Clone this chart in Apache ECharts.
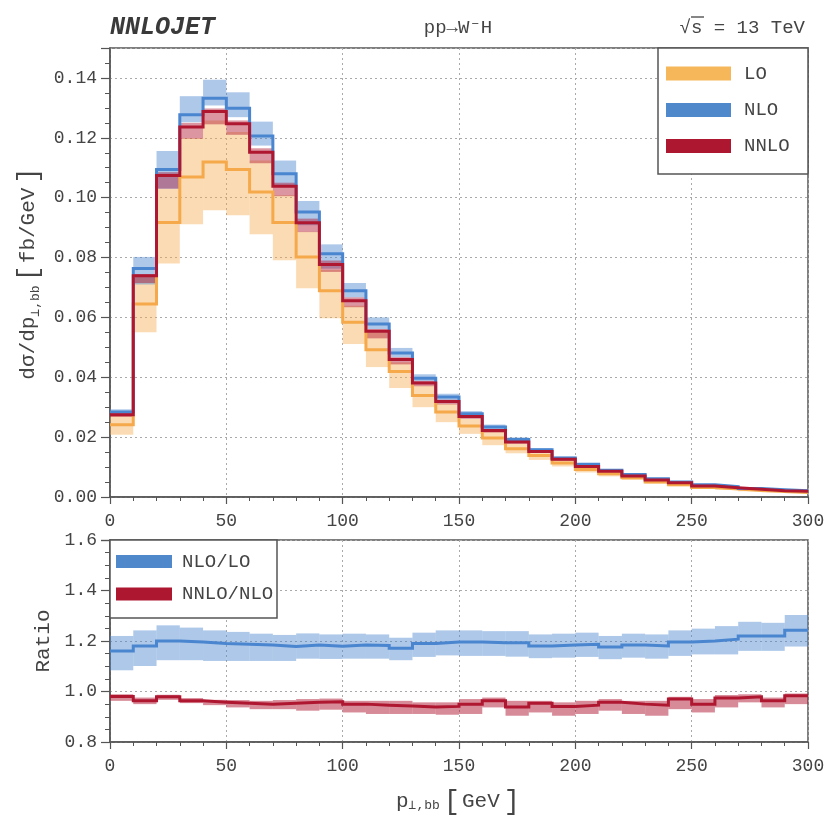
<!DOCTYPE html>
<html><head><meta charset="utf-8">
<script src="https://cdn.jsdelivr.net/npm/echarts@6/dist/echarts.min.js"></script>
<style>html,body{margin:0;padding:0;background:#fff}#c{width:839px;height:832px}</style>
</head><body><div id="c"></div><script>
// bin edges (GeV)
const edges = [0,10,20,30,40,50,60,70,80,90,100,110,120,130,140,150,160,170,180,190,200,210,220,230,240,250,260,270,280,290,300];

// top panel: dσ/dp⊥,bb [fb/GeV]
const loVal  = [0.0241,0.0645,0.0917,0.1069,0.1119,0.1094,0.1019,0.0917,0.0802,0.0689,0.0584,0.0492,0.0419,0.0339,0.0284,0.0237,0.0197,0.0161,0.0139,0.0114,0.0092,0.0078,0.0064,0.0050,0.0041,0.0032,0.0027,0.0022,0.0018,0.0015];
const loLow  = [0.0208,0.0550,0.0780,0.0911,0.0958,0.0941,0.0878,0.0791,0.0697,0.0597,0.0511,0.0434,0.0364,0.0300,0.0250,0.0211,0.0173,0.0146,0.0124,0.0102,0.0082,0.0069,0.0057,0.0045,0.0036,0.0028,0.0024,0.0019,0.0016,0.0013];
const loHigh = [0.0272,0.0735,0.1030,0.1199,0.1258,0.1219,0.1124,0.1008,0.0886,0.0758,0.0639,0.0550,0.0450,0.0372,0.0311,0.0261,0.0217,0.0178,0.0153,0.0126,0.0101,0.0086,0.0071,0.0055,0.0045,0.0035,0.0030,0.0024,0.0020,0.0017];

const nloVal  = [0.0284,0.0763,0.1094,0.1277,0.1332,0.1299,0.1206,0.1080,0.0952,0.0813,0.0689,0.0578,0.0481,0.0397,0.0334,0.0278,0.0234,0.0192,0.0158,0.0130,0.0109,0.0089,0.0075,0.0061,0.0050,0.0041,0.0035,0.0028,0.0024,0.0021];
const nloLow  = [0.0272,0.0710,0.1030,0.1252,0.1308,0.1269,0.1174,0.1041,0.0908,0.0763,0.0667,0.0561,0.0467,0.0386,0.0323,0.0270,0.0227,0.0186,0.0153,0.0126,0.0105,0.0086,0.0072,0.0059,0.0048,0.0039,0.0033,0.0027,0.0023,0.0020];
const nloHigh = [0.0293,0.0802,0.1156,0.1339,0.1394,0.1352,0.1254,0.1124,0.0989,0.0844,0.0715,0.0600,0.0498,0.0410,0.0345,0.0287,0.0242,0.0199,0.0163,0.0135,0.0113,0.0092,0.0078,0.0063,0.0052,0.0043,0.0037,0.0030,0.0025,0.0022];

const nnloVal  = [0.0275,0.0739,0.1074,0.1236,0.1288,0.1247,0.1152,0.1038,0.0916,0.0777,0.0656,0.0554,0.0459,0.0381,0.0319,0.0269,0.0222,0.0184,0.0152,0.0126,0.0102,0.0086,0.0070,0.0057,0.0048,0.0037,0.0031,0.0026,0.0021,0.0019];
const nnloLow  = [0.0268,0.0715,0.1030,0.1197,0.1245,0.1210,0.1115,0.1005,0.0885,0.0752,0.0634,0.0530,0.0443,0.0370,0.0309,0.0261,0.0215,0.0178,0.0147,0.0121,0.0099,0.0083,0.0067,0.0055,0.0046,0.0035,0.0030,0.0025,0.0020,0.0018];
const nnloHigh = [0.0280,0.0745,0.1085,0.1250,0.1298,0.1258,0.1165,0.1050,0.0930,0.0790,0.0667,0.0561,0.0467,0.0388,0.0325,0.0274,0.0227,0.0188,0.0155,0.0128,0.0105,0.0088,0.0072,0.0059,0.0049,0.0038,0.0032,0.0027,0.0022,0.0020];

// bottom panel: ratios
const rNloLo     = [1.160,1.180,1.200,1.196,1.190,1.187,1.184,1.178,1.184,1.179,1.184,1.182,1.171,1.190,1.196,1.196,1.193,1.193,1.180,1.184,1.187,1.176,1.184,1.180,1.196,1.200,1.207,1.220,1.220,1.243];
const rNloLoLow  = [1.084,1.101,1.124,1.124,1.121,1.121,1.121,1.121,1.130,1.129,1.130,1.130,1.124,1.137,1.143,1.141,1.141,1.138,1.132,1.134,1.137,1.128,1.134,1.130,1.141,1.147,1.147,1.161,1.161,1.178];
const rNloLoHigh = [1.220,1.242,1.262,1.253,1.242,1.236,1.229,1.224,1.230,1.226,1.229,1.226,1.213,1.233,1.242,1.242,1.239,1.239,1.226,1.229,1.233,1.220,1.229,1.226,1.242,1.249,1.259,1.276,1.272,1.303];

const rNnloNlo     = [0.980,0.963,0.979,0.963,0.957,0.953,0.950,0.953,0.957,0.959,0.950,0.946,0.943,0.939,0.941,0.950,0.963,0.939,0.953,0.941,0.946,0.957,0.950,0.946,0.970,0.950,0.974,0.979,0.963,0.983];
const rNnloNloLow  = [0.963,0.950,0.967,0.954,0.946,0.937,0.930,0.930,0.924,0.928,0.917,0.911,0.911,0.911,0.908,0.911,0.937,0.904,0.917,0.904,0.911,0.924,0.911,0.904,0.930,0.917,0.937,0.957,0.937,0.950];
const rNnloNloHigh = [0.989,0.976,0.987,0.974,0.967,0.966,0.963,0.966,0.970,0.972,0.963,0.963,0.963,0.957,0.957,0.970,0.976,0.963,0.963,0.957,0.963,0.970,0.963,0.963,0.979,0.970,0.986,0.989,0.976,0.992];

// tick labels
const xTicks = [0,50,100,150,200,250,300];
const yTopTicks = [0,0.02,0.04,0.06,0.08,0.10,0.12,0.14];
const yBotTicks = [0.8,1.0,1.2,1.4,1.6];

const FONT = "'Liberation Mono', 'DejaVu Sans Mono', monospace";
const TXT = '#444';
const FRAME = '#555';
const C_LO = '#F5A94A', C_NLO = '#4A85CF', C_NNLO = '#AF1731';

function stepData(vals){
  const d = [];
  vals.forEach((v,i)=>{ d.push([edges[i], v]); d.push([edges[i+1], v]); });
  return d;
}
function stepSeries(name, vals, color, gi){
  return {type:'line', name, data: stepData(vals), xAxisIndex:gi, yAxisIndex:gi,
    symbol:'none', showSymbol:false, lineStyle:{color, width:3, join:'miter'}, itemStyle:{color},
    z:5, animation:false, silent:true, clip:true};
}
function bandSeries(lo, hi, fill, gi){
  return {type:'custom', xAxisIndex:gi, yAxisIndex:gi, silent:true, z:2, animation:false, clip:true,
    data: lo.map((l,i)=>[edges[i], edges[i+1], l, hi[i]]),
    encode:{x:[0,1], y:[2,3]},
    renderItem:(params, api)=>{
      const p1 = api.coord([api.value(0), api.value(3)]);
      const p2 = api.coord([api.value(1), api.value(2)]);
      return {type:'rect', shape:{x:p1[0], y:p1[1], width:p2[0]-p1[0], height:p2[1]-p1[1]}, style:{fill, stroke:null}};
    }};
}
function xAxisCfg(gi){
  return {type:'value', gridIndex:gi, min:xTicks[0], max:xTicks[xTicks.length-1], interval:xTicks[1]-xTicks[0],
    axisLine:{show:true, lineStyle:{color:FRAME, width:1.5}},
    axisTick:{show:true, length:7, lineStyle:{color:FRAME, width:1.2}},
    minorTick:{show:true, splitNumber:5, length:4, lineStyle:{color:FRAME, width:1}},
    splitLine:{show:true, lineStyle:{color:'#aaa', type:[2,3], width:1}},
    axisLabel:{fontFamily:FONT, fontSize:18, color:TXT, margin:15}};
}
function yAxisCfg(gi, ticks, minorN, dec){
  return {type:'value', gridIndex:gi, min:ticks[0], interval:ticks[1]-ticks[0],
    axisLine:{show:true, lineStyle:{color:FRAME, width:1.5}},
    axisTick:{show:true, length:9, lineStyle:{color:FRAME, width:1.2}},
    minorTick:{show:true, splitNumber:minorN, length:5, lineStyle:{color:FRAME, width:1}},
    splitLine:{show:true, lineStyle:{color:'#aaa', type:[2,3], width:1}},
    axisLabel:{fontFamily:FONT, fontSize:18, color:TXT, margin:13, formatter:v=>v.toFixed(dec)}};
}

const chart = echarts.init(document.getElementById('c'), null, {renderer:'canvas'});
const yTop = yAxisCfg(0, yTopTicks, 4, 2);
yTop.max = 0.15; yTop.axisLabel.showMaxLabel = false;
yTop.name = '{a|dσ/dp}{s|⊥,bb}{b|[}{a|fb/GeV}{b|]}';
yTop.nameLocation = 'middle'; yTop.nameRotate = 90; yTop.nameGap = 68;
yTop.nameTextStyle = {fontFamily:FONT, color:TXT, rich:{
  a:{fontFamily:FONT, fontSize:21, color:TXT},
  s:{fontFamily:FONT, fontSize:13, color:TXT, verticalAlign:'bottom', padding:[8,0,0,0]},
  b:{fontFamily:FONT, fontSize:27, color:TXT, padding:[0,2,0,4]}}};
const yBot = yAxisCfg(1, yBotTicks, 4, 1);
yBot.max = yBotTicks[yBotTicks.length-1];
yBot.name = 'Ratio'; yBot.nameLocation='middle'; yBot.nameRotate=90; yBot.nameGap=56;
yBot.nameTextStyle = {fontFamily:FONT, fontSize:21, color:TXT};
const xBot = xAxisCfg(1);
xBot.name = '{a|p}{s|⊥,bb}{b|[}{a|GeV}{b|]}';
xBot.nameLocation='middle'; xBot.nameGap = 46;
xBot.nameTextStyle = {fontFamily:FONT, color:TXT, rich:{
  a:{fontFamily:FONT, fontSize:21, color:TXT},
  s:{fontFamily:FONT, fontSize:13, color:TXT, padding:[8,0,0,0]},
  b:{fontFamily:FONT, fontSize:27, color:TXT, padding:[0,2,0,4]}}};

function legendBox(x, y, w, h, items, swW, swH, textX){
  const children = [{type:'rect', z:100, shape:{x, y, width:w, height:h}, style:{fill:'#fff', stroke:FRAME, lineWidth:1.5}}];
  items.forEach(it=>{
    children.push({type:'rect', z:101, shape:{x:it.sx, y:it.cy - swH/2, width:swW, height:swH}, style:{fill:it.color}});
    children.push({type:'text', z:101, x:textX, y:it.cy, style:{text:it.label, font:`19px ${FONT}`, fill:TXT, textVerticalAlign:'middle', verticalAlign:'middle'}});
  });
  return children;
}

chart.setOption({
  animation:false,
  backgroundColor:'#fff',
  grid:[
    {left:110, top:48, width:698, height:449, show:true, borderColor:FRAME, borderWidth:1.5, backgroundColor:'transparent'},
    {left:110, top:540, width:698, height:202, show:true, borderColor:FRAME, borderWidth:1.5, backgroundColor:'transparent'}
  ],
  xAxis:[xAxisCfg(0), xBot],
  yAxis:[yTop, yBot],
  series:[
    bandSeries(loLow, loHigh, 'rgba(245,169,74,0.42)', 0),
    bandSeries(nloLow, nloHigh, 'rgba(74,133,207,0.45)', 0),
    bandSeries(nnloLow, nnloHigh, 'rgba(175,23,49,0.45)', 0),
    stepSeries('LO', loVal, C_LO, 0),
    stepSeries('NLO', nloVal, C_NLO, 0),
    stepSeries('NNLO', nnloVal, C_NNLO, 0),
    bandSeries(rNloLoLow, rNloLoHigh, 'rgba(74,133,207,0.45)', 1),
    bandSeries(rNnloNloLow, rNnloNloHigh, 'rgba(175,23,49,0.5)', 1),
    stepSeries('NLO/LO', rNloLo, C_NLO, 1),
    stepSeries('NNLO/NLO', rNnloNlo, C_NNLO, 1)
  ],
  graphic:[
    {type:'text', x:110, y:28, z:100, style:{text:'NNLOJET', font:`italic bold 25px ${FONT}`, fill:'#3a3a3a', textVerticalAlign:'middle', verticalAlign:'middle'}},
    {type:'text', x:458, y:28, z:100, style:{text:'pp→W⁻H', font:`19px ${FONT}`, fill:TXT, textAlign:'center', align:'center', textVerticalAlign:'middle', verticalAlign:'middle'}},
    {type:'text', x:805, y:28, z:100, style:{text:'√s = 13 TeV', font:`19px ${FONT}`, fill:TXT, textAlign:'right', align:'right', textVerticalAlign:'middle', verticalAlign:'middle'}},
    {type:'line', z:100, shape:{x1:691, y1:17, x2:704, y2:17}, style:{stroke:TXT, lineWidth:1.3}},
    ...legendBox(658, 48, 150, 126, [
      {label:'LO', color:'#F5B75A', sx:666, cy:73.5},
      {label:'NLO', color:'#5088CC', sx:666, cy:110},
      {label:'NNLO', color:'#AE1730', sx:666, cy:146}
    ], 65, 14, 744),
    ...legendBox(110, 540, 167, 78, [
      {label:'NLO/LO', color:'#5088CC', sx:116, cy:561.5},
      {label:'NNLO/NLO', color:'#AE1730', sx:116, cy:594}
    ], 56, 13, 182)
  ]
});
</script></body></html>
